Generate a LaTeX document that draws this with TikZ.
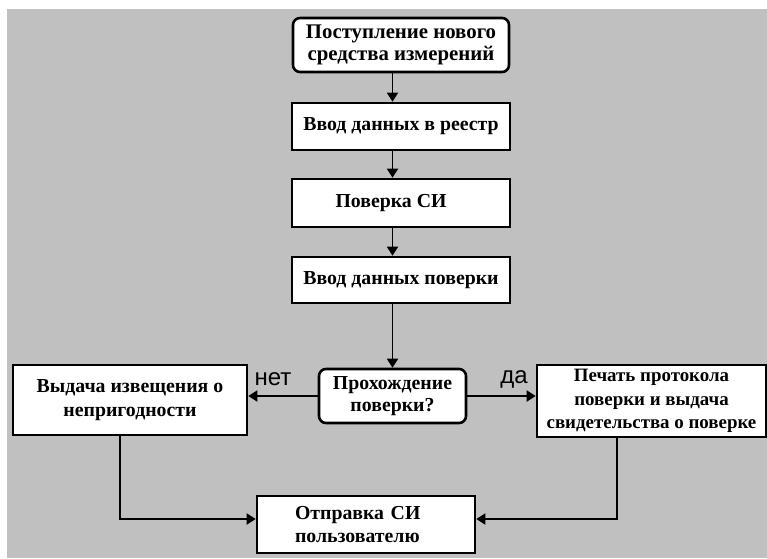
\documentclass[tikz,border=0pt]{standalone}
\usepackage{fontspec}
\setmainfont{Liberation Serif}
\newfontfamily\labelfont{Liberation Sans}
\usetikzlibrary{arrows.meta}
\definecolor{bggray}{RGB}{192,192,192}
\begin{document}
\begin{tikzpicture}[x=1pt,y=-1pt,
  box/.style={draw=black, line width=2.6pt, fill=white, inner sep=0pt, align=center,
    font=\bfseries\fontsize{19.8}{22.5}\selectfont},
  rbox/.style={box, rounded corners=7pt},
  conn/.style={line width=1.8pt, -{Triangle[length=9pt,width=11pt]}},
  lab/.style={font=\labelfont\fontsize{24}{26}\selectfont, inner sep=0pt}]
\useasboundingbox (0,0) rectangle (767,558);
\fill[bggray] (7,9) rectangle (767,558);

\node[rbox, minimum width=216, minimum height=54, font=\bfseries\fontsize{20.8}{21.5}\selectfont] (n1) at (401,45) {Поступление нового\\средства измерений};
\node[box, minimum width=218, minimum height=47] (n2) at (401,126.5) {Ввод данных в реестр};
\node[box, minimum width=218, minimum height=48] (n3) at (401,203) {Поверка СИ\hspace*{20pt}};
\node[box, minimum width=218, minimum height=46] (n4) at (401,280) {Ввод данных поверки};
\node[rbox, minimum width=147, minimum height=54, font=\bfseries\fontsize{19.8}{21.5}\selectfont] (dec) at (392.5,396) {Прохождение\\поверки?};
\node[box, minimum width=234, minimum height=70, font=\bfseries\fontsize{19.8}{24}\selectfont] (no) at (130,400) {Выдача извещения о\\непригодности};
\node[box, minimum width=229, minimum height=72, font=\bfseries\fontsize{18.9}{23.5}\selectfont] (yes) at (651.5,401) {Печать протокола\\поверки и выдача\\свидетельства о поверке};
\node[box, minimum width=218, minimum height=57, align=left, text width=142] (send) at (366,524.5) {Отправка СИ\\пользователю};

\coordinate (nob) at (120,435);
\coordinate (yesb) at (617,437);
\coordinate (nocorner) at (120,519);
\coordinate (yescorner) at (617,519);

\draw[conn] (dec.north |- n1.south) -- (dec.north |- n2.north);
\draw[conn] (dec.north |- n2.south) -- (dec.north |- n3.north);
\draw[conn] (dec.north |- n3.south) -- (dec.north |- n4.north);
\draw[conn] (dec.north |- n4.south) -- (dec.north);
\draw[conn] (dec.west) -- (dec.west -| no.east);
\draw[conn] (dec.east) -- (dec.east -| yes.west);
\draw[conn] (nob) -- (nocorner) -- (nocorner -| send.west);
\draw[conn] (yesb) -- (yescorner) -- (yescorner -| send.east);

\node[lab] (lno) at (273,379) {нет};
\node[lab] (lyes) at (514,379) {да};
\end{tikzpicture}
\end{document}
